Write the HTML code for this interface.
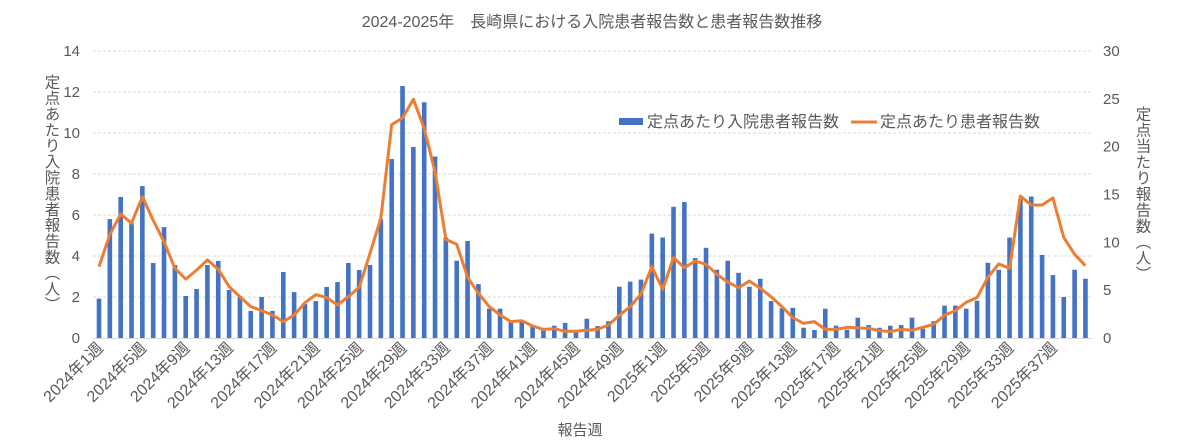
<!DOCTYPE html>
<html><head><meta charset="utf-8"><style>
html,body{margin:0;padding:0;background:#fff;}
svg{display:block;font-family:"Liberation Sans","Noto Sans CJK JP",sans-serif;}
</style></head><body>
<svg id="c" width="1185" height="444" viewBox="0 0 1185 444" xmlns="http://www.w3.org/2000/svg">
<rect width="1185" height="444" fill="#fff"/>
<text x="592" y="27" text-anchor="middle" font-size="16" fill="#595959">2024-2025年　長崎県における入院患者報告数と患者報告数推移</text>
<g id="grid"></g><g id="bars"></g><g id="line"></g><g id="labels"></g>
<text x="51" y="74" font-size="15.5" fill="#595959" style="writing-mode:vertical-rl" letter-spacing="0.4">定点あたり入院患者報告数（人）</text>
<text x="1142" y="106" font-size="15.5" fill="#595959" style="writing-mode:vertical-rl" letter-spacing="0.5">定点当たり報告数（人）</text>
<text x="580" y="435" text-anchor="middle" font-size="15" fill="#595959">報告週</text>
<rect x="619" y="118" width="24" height="7" fill="#4472C4"/>
<text x="647" y="127" font-size="16" fill="#595959">定点あたり入院患者報告数</text>
<line x1="851" y1="122" x2="877" y2="122" stroke="#ED7D31" stroke-width="3"/>
<text x="880" y="127" font-size="16" fill="#595959">定点あたり患者報告数</text>
</svg>
<script>
var bars=[1.92,5.8,6.88,5.6,7.41,3.66,5.41,3.56,2.05,2.39,3.56,3.76,2.34,2.05,1.32,2.0,1.32,3.22,2.24,1.66,1.8,2.49,2.73,3.66,3.32,3.56,5.8,8.73,12.29,9.32,11.5,
8.85,4.9,3.77,4.73,2.63,1.43,1.43,0.8,0.8,0.58,0.36,0.6,0.74,0.36,0.94,0.58,0.82,2.5,2.75,2.85,5.09,
4.9,6.4,6.63,3.9,4.4,3.33,3.77,3.18,2.5,2.89,1.8,1.45,1.47,0.5,0.39,1.43,0.6,0.41,0.99,0.63,0.5,0.6,0.63,0.99,0.45,0.82,1.58,1.58,1.43,1.82,3.67,3.33,4.9,6.77,6.9,4.05,3.07,2.0,3.33,2.89];
var line=[7.45,10.8,12.96,12.0,14.77,12.3,10.07,7.29,6.16,7.1,8.15,7.18,5.37,4.32,3.28,2.86,2.4,1.71,2.4,3.69,4.53,4.22,3.45,4.32,5.3,8.85,12.5,22.3,23.0,24.95,21.9,
17.4,10.3,9.8,6.34,4.67,3.28,2.4,1.71,1.81,1.25,0.9,0.97,0.7,0.7,0.8,0.9,1.36,2.37,3.28,4.6,7.45,5.08,8.4,7.35,8.05,7.7,6.66,5.85,5.26,5.96,5.19,
4.32,3.28,2.12,1.53,1.71,0.9,0.9,1.12,1.05,1.0,0.77,0.66,0.9,0.8,1.12,1.43,2.37,2.86,3.73,4.22,6.34,7.74,7.29,14.84,13.9,13.9,14.63,10.49,8.75,7.56];
var NS="http://www.w3.org/2000/svg";
function el(p,t,a,txt){var e=document.createElementNS(NS,t);for(var k in a)e.setAttribute(k,a[k]);if(txt!=null)e.textContent=txt;document.getElementById(p).appendChild(e);return e;}
var y0=338,yt=51,x0=93,x1=1092;
function yl(v){return y0-(y0-yt)*v/14;}function yr(v){return y0-(y0-yt)*v/30;}
function xc(i){return 99+i*10.84;}
for(var g=0;g<=7;g++){var y=yl(g*2);
 if(g>0)el("grid","line",{x1:x0,x2:x1,y1:y,y2:y,stroke:"#d9d9d9","stroke-width":1,"stroke-dasharray":"3,2"});
 el("grid","text",{x:80,y:y+5,"text-anchor":"end","font-size":15,fill:"#595959"},String(g*2));}
for(var g=0;g<=6;g++){var y=yr(g*5);
 el("grid","text",{x:1103,y:y+5,"font-size":15,fill:"#595959"},String(g*5));}
el("grid","line",{x1:x0,x2:x1,y1:y0+0.5,y2:y0+0.5,stroke:"#d9d9d9","stroke-width":1});
bars.forEach(function(v,i){el("bars","rect",{x:xc(i)-2.3,y:yl(v),width:4.6,height:y0-yl(v),fill:"#4472C4"});});
el("line","polyline",{points:line.map(function(v,i){return xc(i).toFixed(1)+","+yr(v).toFixed(1);}).join(" "),fill:"none",stroke:"#ED7D31","stroke-width":3,"stroke-linejoin":"round"});
for(var i=0;i<92;i+=4){var lab=i<52?("2024年"+(i+1)+"週"):("2025年"+(i-51)+"週");
 var x=xc(i)+5,y=349;
 el("labels","text",{x:x,y:y,"text-anchor":"end","font-size":16,fill:"#595959",transform:"rotate(-45 "+x+" "+y+")"},lab);}
</script>
</body></html>
